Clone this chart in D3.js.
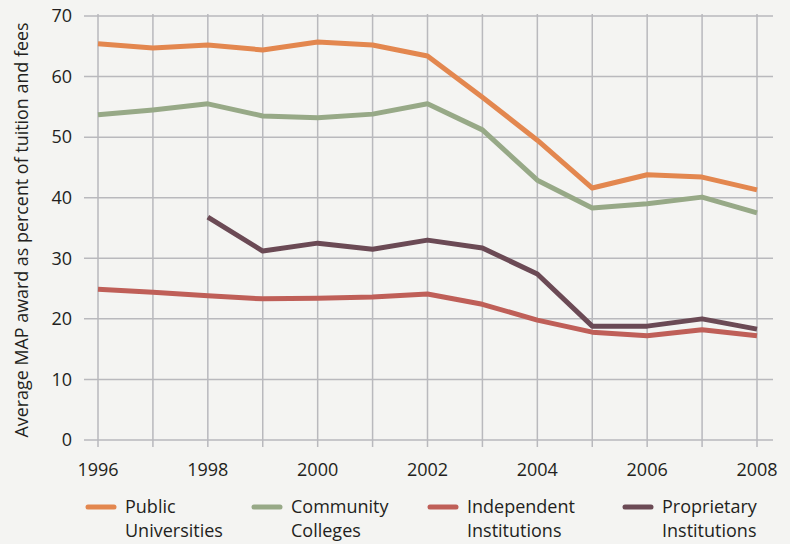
<!DOCTYPE html>
<html><head><meta charset="utf-8">
<script src="https://cdn.jsdelivr.net/npm/d3@7"></script>
<style>body{margin:0;background:#f4f4f2;}svg{display:block;}text{font-family:"Open Sans",sans-serif;fill:#231f20;}</style>
</head><body><svg id="c" width="790" height="544"></svg>
<script>
const years = [1996,1997,1998,1999,2000,2001,2002,2003,2004,2005,2006,2007,2008];
const yTicks = [0,10,20,30,40,50,60,70];
const xTickLabels = [1996,1998,2000,2002,2004,2006,2008];
const publicUniv = [65.4,64.7,65.2,64.4,65.7,65.2,63.4,56.6,49.5,41.6,43.8,43.4,41.3];
const community = [53.7,54.5,55.5,53.5,53.2,53.8,55.5,51.2,42.9,38.3,39.0,40.1,37.5];
const independent = [24.9,24.4,23.8,23.3,23.4,23.6,24.1,22.4,19.8,17.8,17.2,18.2,17.2];
const proprietary = [null,null,36.8,31.2,32.5,31.5,33.0,31.7,27.4,18.8,18.8,20.0,18.3];
const seriesNames = [["Public","Universities"],["Community","Colleges"],["Independent","Institutions"],["Proprietary","Institutions"]];
const colors = ["#e3874f","#97a987","#bf5f58","#6b4a55"];

const svg = d3.select("#c");
const x = d3.scaleLinear().domain([1996,2008]).range([98,757]);
const y = d3.scaleLinear().domain([0,70]).range([440,16]);
const grid = "#b9b9bd";

svg.append("g").selectAll("line").data(yTicks).join("line")
  .attr("x1",84).attr("x2",773).attr("y1",d=>y(d)).attr("y2",d=>y(d))
  .attr("stroke",grid).attr("stroke-width",1.5);
svg.append("g").selectAll("line").data(years).join("line")
  .attr("x1",d=>x(d)).attr("x2",d=>x(d)).attr("y1",14).attr("y2",447)
  .attr("stroke",grid).attr("stroke-width",1.5);

svg.append("g").selectAll("text").data(yTicks).join("text")
  .attr("x",72).attr("y",d=>y(d)).attr("dy","0.35em").attr("text-anchor","end")
  .attr("font-size",18).text(d=>d);
svg.append("g").selectAll("text").data(xTickLabels).join("text")
  .attr("x",d=>x(d)).attr("y",470).attr("dy","0.35em").attr("text-anchor","middle")
  .attr("font-size",18).text(d=>d);
svg.append("text").attr("transform","translate(22,230) rotate(-90)")
  .attr("text-anchor","middle").attr("dy","0.35em").attr("font-size",17.9)
  .text("Average MAP award as percent of tuition and fees");

const data = [publicUniv, community, independent, proprietary];
const line = d3.line().defined(d=>d[1]!=null).x(d=>x(d[0])).y(d=>y(d[1]));
[3,2,1,0].forEach(i=>{
  svg.append("path").datum(years.map((yr,j)=>[yr,data[i][j]]))
    .attr("d",line).attr("fill","none").attr("stroke",colors[i])
    .attr("stroke-width",5).attr("stroke-linejoin","round");
});

const legX = [86,252,428,623];
seriesNames.forEach((n,i)=>{
  const g = svg.append("g");
  g.append("line").attr("x1",legX[i]+2).attr("x2",legX[i]+28).attr("y1",507).attr("y2",507)
    .attr("stroke",colors[i]).attr("stroke-width",5).attr("stroke-linecap","round");
  g.append("text").attr("x",legX[i]+39).attr("y",507).attr("dy","0.35em").attr("font-size",18).text(n[0]);
  g.append("text").attr("x",legX[i]+39).attr("y",531).attr("dy","0.35em").attr("font-size",18).text(n[1]);
});
</script></body></html>
